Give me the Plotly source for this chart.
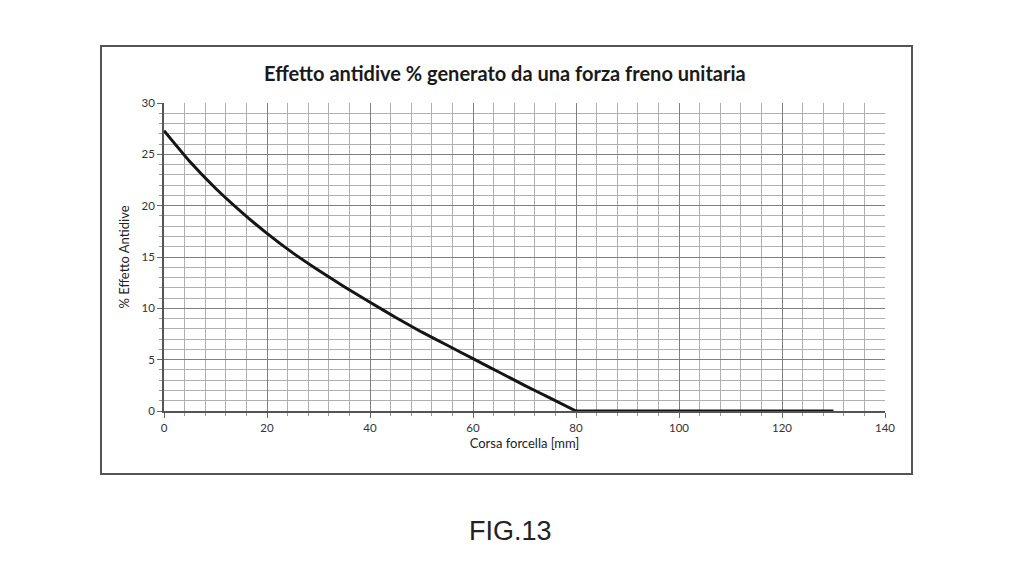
import plotly.graph_objects as go

corsa = [0, 5, 10, 15, 20, 25, 30, 35, 40, 45, 50, 55, 60, 65, 70, 75, 80, 130]
effetto = [27.3, 24.3, 21.7, 19.4, 17.3, 15.4, 13.7, 12.1, 10.6, 9.1, 7.7, 6.4, 5.1, 3.8, 2.5, 1.25, 0.0, 0.0]

W, H = 1024, 576
OFF = 8  # page body offset
L, R, T, B = 164 - OFF, 885 - OFF, 103 - OFF, 411 - OFF

def px2x(p):
    return (p - OFF - L) / (R - L)

def py2y(p):
    return (B - (p - OFF)) / (B - T)

# the curved part ends where the value reaches zero; the rest is flat
k = effetto.index(0.0)

fig = go.Figure()
fig.add_trace(go.Scatter(x=corsa[:k + 1], y=effetto[:k + 1], mode="lines",
                         line=dict(color="#151515", width=3, shape="spline", smoothing=0.5),
                         showlegend=False, cliponaxis=False))
fig.add_trace(go.Scatter(x=corsa[k:], y=effetto[k:], mode="lines",
                         line=dict(color="#151515", width=3),
                         showlegend=False, cliponaxis=False))

grid_major = "#808080"
grid_minor = "#b0b0b0"
font = "Lato, 'Open Sans', sans-serif"

fig.update_xaxes(range=[0, 140], dtick=20, tick0=0, showgrid=True, gridcolor=grid_major, gridwidth=1,
                 minor=dict(dtick=4, showgrid=True, gridcolor=grid_minor, gridwidth=1,
                            ticks="outside", ticklen=3, tickcolor="#999"),
                 ticks="outside", ticklen=5, tickcolor="#666",
                 showline=True, linecolor="#555", linewidth=1.5, zeroline=False,
                 tickfont=dict(family=font, size=11.5, color="#333"),
                 title=dict(text="Corsa forcella [mm]", font=dict(family=font, size=13, color="#222"), standoff=6))
fig.update_yaxes(range=[0, 30], dtick=5, tick0=0, showgrid=True, gridcolor=grid_major, gridwidth=1,
                 minor=dict(dtick=1, showgrid=True, gridcolor=grid_minor, gridwidth=1,
                            ticks="outside", ticklen=3, tickcolor="#999"),
                 ticks="outside", ticklen=5, tickcolor="#666",
                 showline=True, linecolor="#555", linewidth=1.5, zeroline=False,
                 tickfont=dict(family=font, size=11.5, color="#333"),
                 title=dict(text="% Effetto Antidive", font=dict(family=font, size=13, color="#222"), standoff=9))

fig.add_shape(type="rect", xref="paper", yref="paper",
              x0=px2x(101), x1=px2x(912), y0=py2y(474), y1=py2y(46),
              line=dict(color="#555", width=2), fillcolor="rgba(0,0,0,0)", layer="below")

fig.add_annotation(text="<b>Effetto antidive % generato da una forza freno unitaria</b>",
                   xref="paper", yref="paper", x=px2x(505), y=py2y(73), showarrow=False,
                   font=dict(family=font, size=20, color="#1a1a1a"), xanchor="center", yanchor="middle")
fig.add_annotation(text="FIG.13", xref="paper", yref="paper", x=px2x(510), y=py2y(531),
                   showarrow=False, font=dict(family="Liberation Sans, Arial, sans-serif", size=27, color="#222"),
                   xanchor="center", yanchor="middle")

fig.update_layout(width=W, height=H, margin=dict(l=L, r=W - R, t=T, b=H - B),
                  paper_bgcolor="white", plot_bgcolor="white")
fig.write_html("out.html")
